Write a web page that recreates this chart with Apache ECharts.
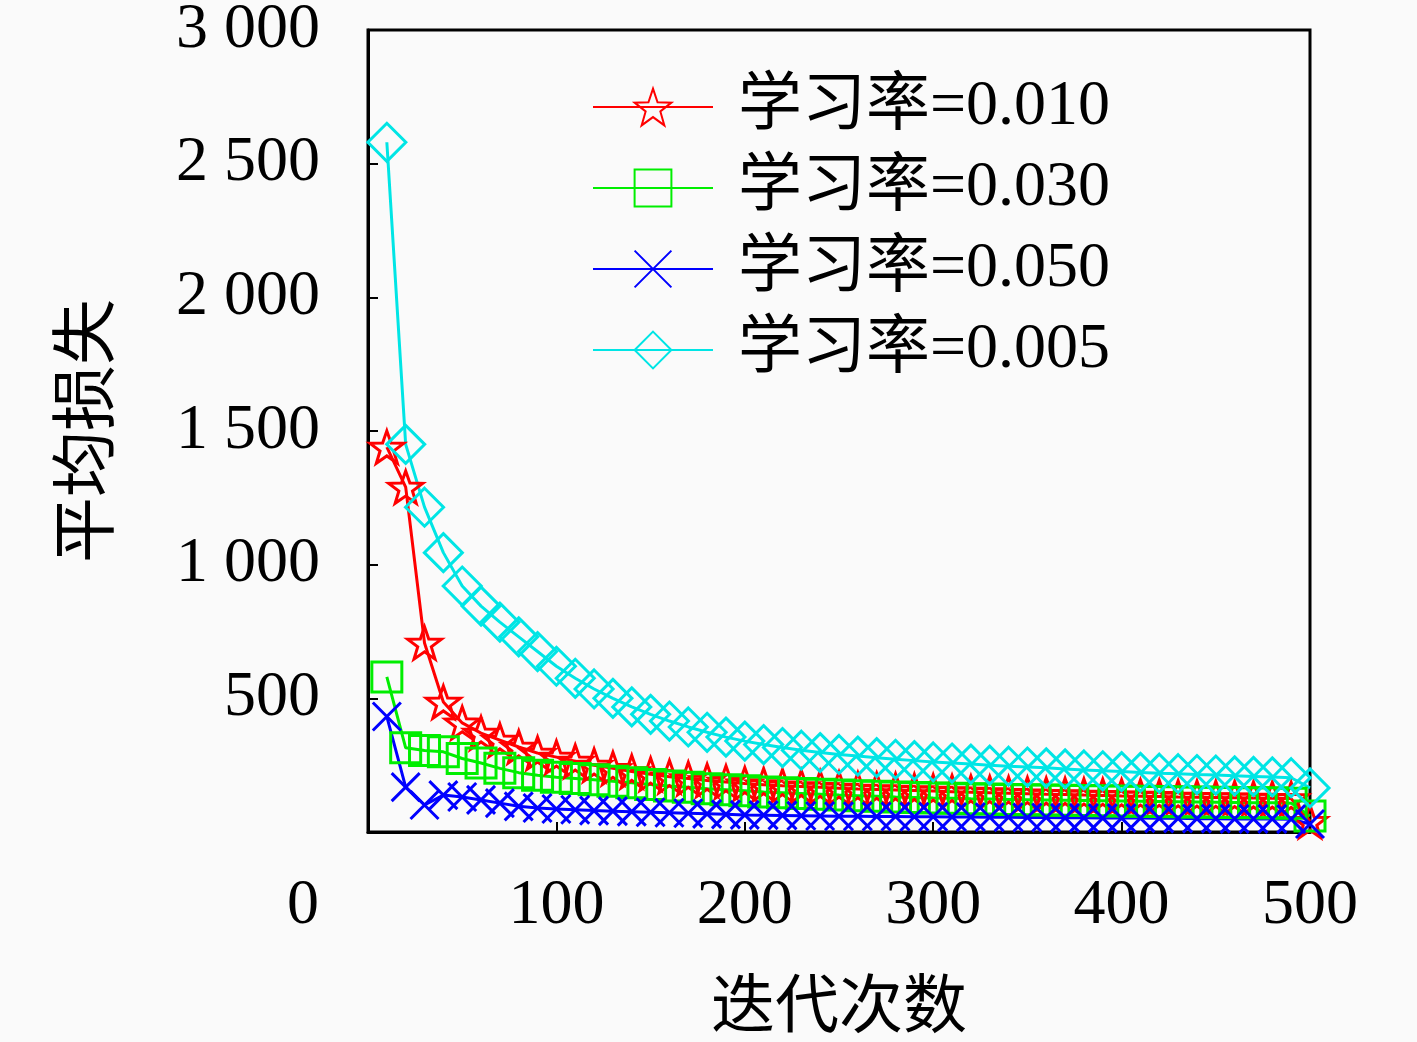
<!DOCTYPE html>
<html>
<head>
<meta charset="utf-8">
<script src="https://cdn.jsdelivr.net/npm/echarts@6/dist/echarts.min.js"></script>
<style>
  html, body { margin: 0; padding: 0; background: #fafafa; }
  #chart { width: 1417px; height: 1042px; }
</style>
</head>
<body>
<div id="chart"></div>
<script>
// 迭代次数
const iterations = [
  10, 20, 30, 40, 50, 60, 70, 80, 90, 100,
  110, 120, 130, 140, 150, 160, 170, 180, 190, 200,
  210, 220, 230, 240, 250, 260, 270, 280, 290, 300,
  310, 320, 330, 340, 350, 360, 370, 380, 390, 400,
  410, 420, 430, 440, 450, 460, 470, 480, 490, 500
];
const seriesNames = ['学习率=0.010', '学习率=0.030', '学习率=0.050', '学习率=0.005'];
const loss010 = [
  1440, 1290, 707, 486, 408, 370, 344, 318, 295, 280,
  265, 250, 238, 226, 216, 207, 200, 193, 187, 181,
  177, 173, 170, 167, 164, 161, 159, 157, 155, 153,
  151, 149, 147, 145, 143, 141, 140, 138, 137, 135,
  134, 133, 131, 130, 129, 128, 127, 126, 125, 40
];
const loss030 = [
  580, 315, 305, 300, 275, 258, 238, 222, 212, 205,
  200, 195, 190, 184, 178, 172, 167, 162, 158, 154,
  150, 147, 144, 141, 138, 136, 134, 131, 129, 127,
  126, 124, 123, 122, 121, 120, 119, 118, 117, 116,
  115, 114, 113, 112, 111, 110, 109, 109, 108, 60
];
const loss050 = [
  432, 168, 101, 138, 131, 120, 108, 96, 90, 86,
  83, 80, 78, 76, 74, 72, 70, 68, 66, 64,
  63, 62, 61, 60, 59, 59, 58, 58, 57, 57,
  56, 56, 55, 55, 54, 54, 53, 53, 52, 52,
  52, 51, 51, 50, 50, 49, 49, 49, 48, 30
];
const loss005 = [
  2580, 1450, 1215, 1045, 920, 845, 785, 730, 675, 620,
  575, 535, 500, 468, 440, 415, 393, 373, 355, 340,
  327, 316, 306, 297, 290, 284, 278, 272, 267, 262,
  258, 254, 250, 246, 243, 240, 236, 232, 229, 226,
  223, 220, 218, 215, 213, 210, 208, 206, 203, 165
];

const starPath = 'path://M50,0L61.76,33.82L97.55,34.55L69.02,56.18L79.39,90.45L50,70L20.61,90.45L30.98,56.18L2.45,34.55L38.24,33.82Z';
const crossPath = 'path://M0,0L20,20M20,0L0,20';
const serifFont = "'Liberation Serif', 'Noto Sans CJK SC', serif";

var chartDom = document.getElementById('chart');
var myChart = echarts.init(chartDom);

const pairs = (ys) => iterations.map((x, i) => [x, ys[i]]);

// 空心标记：填充透明，只画描边
const makeSeries = (name, ys, color, symbol, size) => ({
  name: name,
  type: 'line',
  data: pairs(ys),
  symbol: symbol,
  symbolSize: size,
  symbolKeepAspect: true,
  showAllSymbol: true,
  lineStyle: { color: color, width: 3 },
  itemStyle: { color: 'rgba(0,0,0,0)', borderColor: color, borderWidth: 3 },
  emphasis: { disabled: true }
});

var option = {
  backgroundColor: '#fafafa',
  animation: false,
  grid: {
    left: 368, right: 107, top: 30, bottom: 210,
    outerBoundsMode: 'none',
    containLabel: false,
    show: true, borderColor: '#000', borderWidth: 3
  },
  legend: {
    orient: 'vertical',
    left: 592,
    top: 75,
    padding: 0,
    itemWidth: 120,
    itemHeight: 46,
    itemGap: 17,
    data: seriesNames,
    textStyle: {
      fontFamily: serifFont,
      fontSize: 64,
      lineHeight: 62,
      color: '#000',
      padding: [0, 0, 0, 20]
    }
  },
  xAxis: {
    type: 'value',
    min: 0, max: 500, interval: 100,
    name: '迭代次数',
    nameLocation: 'middle',
    nameGap: 146,
    nameTextStyle: { fontFamily: serifFont, fontSize: 64, color: '#000' },
    axisLine: { show: true, lineStyle: { color: '#000', width: 3 } },
    axisTick: { show: true, inside: true, length: 10, lineStyle: { color: '#000', width: 2 } },
    splitLine: { show: false },
    axisLabel: {
      margin: 42,
      fontFamily: serifFont,
      fontSize: 64,
      color: '#000',
      formatter: (v) => v === 0 ? '{z|0}' : String(v),
      rich: { z: { fontFamily: serifFont, fontSize: 64, color: '#000', padding: [0, 130, 0, 0] } }
    }
  },
  yAxis: {
    type: 'value',
    min: 0, max: 3000, interval: 500,
    name: '平均损失',
    nameLocation: 'middle',
    nameGap: 244,
    nameTextStyle: { fontFamily: serifFont, fontSize: 66, color: '#000' },
    axisLine: { show: true, lineStyle: { color: '#000', width: 3 } },
    axisTick: { show: true, inside: true, length: 10, lineStyle: { color: '#000', width: 2 } },
    splitLine: { show: false },
    axisLabel: {
      margin: 48,
      fontFamily: serifFont,
      fontSize: 64,
      color: '#000',
      padding: [14, 0, 0, 0],
      formatter: (v) => {
        if (v === 0) return '';
        if (v < 1000) return String(v);
        return Math.floor(v / 1000) + ' ' + String(v % 1000).padStart(3, '0');
      }
    }
  },
  series: [
    makeSeries(seriesNames[0], loss010, '#ff0000', starPath, 34),
    makeSeries(seriesNames[1], loss030, '#00ee00', 'rect', 30),
    makeSeries(seriesNames[2], loss050, '#0000ff', crossPath, 28),
    makeSeries(seriesNames[3], loss005, '#00e5e5', 'diamond', 38)
  ]
};

option && myChart.setOption(option);
</script>
</body>
</html>
